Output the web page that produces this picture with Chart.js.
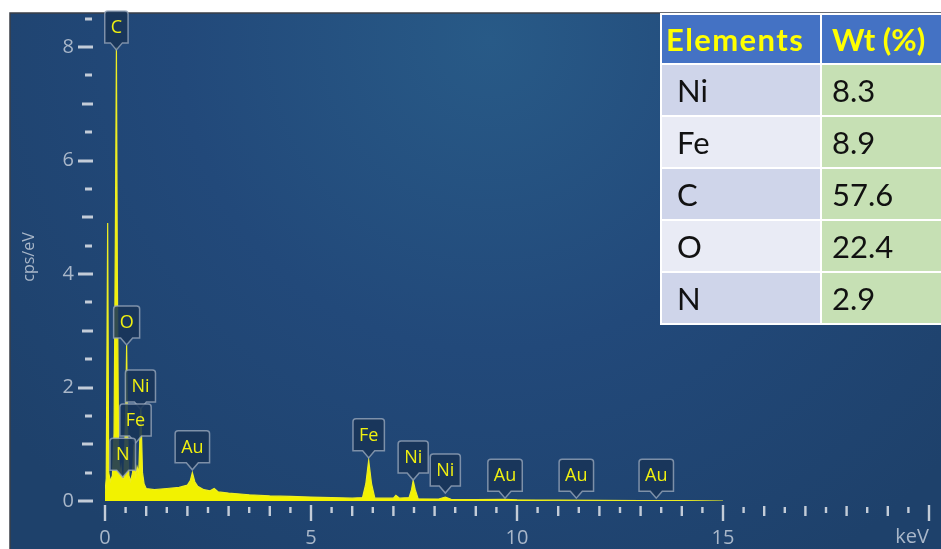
<!DOCTYPE html>
<html>
<head>
<meta charset="utf-8">
<script src="https://cdn.jsdelivr.net/npm/chart.js@4.4.1/dist/chart.umd.min.js"></script>
<style>
  html, body { margin: 0; padding: 0; background: #fff; }
  #wrap { position: relative; width: 941px; height: 549px; }
  #spec { position: absolute; left: 0; top: 0; }
  #wt {
    position: absolute; left: 660px; top: 13px; width: 281px;
    border-collapse: collapse; table-layout: fixed;
    font-family: Lato, "Open Sans", sans-serif;
  }
  #wt th, #wt td { border: 2px solid #fff; padding: 0 0 0 10px; text-align: left; white-space: nowrap; overflow: hidden; }
  #wt th { background: #4472c4; color: #ffff00; font-size: 31px; font-weight: bold; height: 48px; }
  #wt th.first { letter-spacing: 1.4px; padding-left: 4px; }
  #wt td { color: #111; font-size: 31px; height: 50px; }
  #wt td.el { padding-left: 15px; }
  #wt tr.odd td.el { background: #cfd5ea; }
  #wt tr.even td.el { background: #e9ebf5; }
  #wt td.val { background: #c6e0b4; }
</style>
</head>
<body>
<div id="wrap">
  <canvas id="spec" width="941" height="549"></canvas>
  <table id="wt"><colgroup><col style="width:160px"><col style="width:121px"></colgroup><tbody></tbody></table>
</div>
<script>
// EDS spectrum (keV, cps/eV)
const energies = [0.00, 0.03, 0.065, 0.09, 0.13, 0.18, 0.22, 0.25, 0.277, 0.30, 0.33, 0.36, 0.39, 0.42, 0.46, 0.50, 0.525, 0.55, 0.58, 0.62, 0.67, 0.705, 0.74, 0.78, 0.82, 0.87, 0.91, 0.95,
  1.0, 1.2, 1.5, 1.8, 2.0, 2.07, 2.12, 2.18, 2.25, 2.4, 2.55, 2.65, 2.75, 3.0, 3.5, 4.0, 4.5, 5.0, 5.5, 6.0, 6.25, 6.33, 6.40, 6.47, 6.55,
  7.0, 7.06, 7.15, 7.38, 7.44, 7.48, 7.53, 7.6, 8.1, 8.26, 8.4, 9.0, 9.71, 10.0, 11.0, 12.0, 13.0, 14.0, 15.0];
const counts = [0.15, 0.4, 4.9, 0.5, 0.35, 0.45, 1.2, 4.5, 8.0, 4.0, 0.9, 0.45, 0.6, 0.4, 0.4, 1.5, 2.75, 1.2, 0.45, 0.35, 0.5, 1.0, 0.4, 0.6, 0.5, 1.65, 0.5, 0.3,
  0.22, 0.2, 0.22, 0.24, 0.28, 0.36, 0.5, 0.34, 0.26, 0.2, 0.18, 0.22, 0.16, 0.14, 0.11, 0.09, 0.08, 0.07, 0.06, 0.05, 0.06, 0.3, 0.72, 0.3, 0.05,
  0.05, 0.1, 0.05, 0.06, 0.2, 0.36, 0.2, 0.04, 0.035, 0.07, 0.03, 0.025, 0.03, 0.02, 0.015, 0.01, 0.008, 0.005, 0.0];

// peak markers: element, energy (keV), marker tip height (cps/eV)
const peakNames = ['C', 'O', 'Ni', 'Fe', 'N', 'Au', 'Fe', 'Ni', 'Ni', 'Au', 'Au', 'Au'];
const peakEnergies = [0.277, 0.525, 0.86, 0.74, 0.43, 2.12, 6.40, 7.48, 8.26, 9.71, 11.44, 13.38];
const peakTips = [7.95, 2.75, 1.62, 1.02, 0.42, 0.55, 0.76, 0.37, 0.14, 0.05, 0.05, 0.05];

// table
const tableElements = ['Ni', 'Fe', 'C', 'O', 'N'];
const tableWt = ['8.3', '8.9', '57.6', '22.4', '2.9'];

const tbody = document.querySelector('#wt tbody');
let html = '<tr><th class="first">Elements</th><th>Wt (%)</th></tr>';
tableElements.forEach((el, i) => {
  html += '<tr class="' + (i % 2 === 0 ? 'odd' : 'even') + '"><td class="el">' + el + '</td><td class="val">' + tableWt[i] + '</td></tr>';
});
tbody.innerHTML = html;

const axisCol = '#a9b7c9';
const tickCol = '#c3ccd8';

const backdrop = {
  id: 'backdrop',
  beforeDraw(chart) {
    const c = chart.ctx;
    c.save();
    c.fillStyle = '#fff';
    c.fillRect(0, 0, chart.width, chart.height);
    const g = c.createRadialGradient(490, 40, 0, 490, 40, 620);
    g.addColorStop(0, '#285a87');
    g.addColorStop(0.5, '#22497a');
    g.addColorStop(1, '#1e416b');
    c.fillStyle = g;
    c.fillRect(10, 13, chart.width - 10, chart.height - 13);
    c.strokeStyle = '#3a3f48';
    c.lineWidth = 1.5;
    c.beginPath();
    c.moveTo(10, chart.height);
    c.lineTo(10, 13);
    c.lineTo(chart.width, 13);
    c.stroke();
    c.restore();
  }
};

// tick marks, drawn off the chart area like the instrument software does
const tickMarks = {
  id: 'tickMarks',
  afterDraw(chart) {
    const c = chart.ctx, xs = chart.scales.x, ys = chart.scales.y;
    c.save();
    c.fillStyle = tickCol;
    for (let v = 0; v <= 8.5; v += 0.5) {
      const y = Math.round(ys.getPixelForValue(v));
      let x0 = 85, x1 = 92;
      if (v % 2 === 0) { x0 = 78; x1 = 93; }
      else if (v % 1 === 0) { x0 = 82; x1 = 93; }
      c.fillRect(x0, y - 1.5, x1 - x0, 3);
    }
    for (let v = 0; v <= 20; v += 0.5) {
      const x = xs.getPixelForValue(v);
      let y0 = 507, y1 = 513;
      if (v % 5 === 0) { y0 = 505; y1 = 521; }
      else if (v % 1 === 0) { y0 = 506; y1 = 516; }
      c.fillRect(x - 1.2, y0, 2.4, y1 - y0);
    }
    c.restore();
  }
};

const peakTags = {
  id: 'peakTags',
  afterDatasetsDraw(chart) {
    const c = chart.ctx, xs = chart.scales.x, ys = chart.scales.y;
    c.save();
    c.font = '18px "Open Sans", sans-serif';
    c.textAlign = 'center';
    c.textBaseline = 'middle';
    peakNames.forEach((name, i) => {
      const px = xs.getPixelForValue(peakEnergies[i]);
      const py = ys.getPixelForValue(peakTips[i]);
      const w = c.measureText(name).width + 12;
      const h = 32;
      const bottom = py - 7;
      const left = px - w / 2, top = bottom - h;
      c.beginPath();
      c.moveTo(left + 3, top);
      c.lineTo(left + w - 3, top);
      c.quadraticCurveTo(left + w, top, left + w, top + 3);
      c.lineTo(left + w, bottom);
      c.lineTo(px + 6, bottom);
      c.lineTo(px, py);
      c.lineTo(px - 6, bottom);
      c.lineTo(left, bottom);
      c.lineTo(left, top + 3);
      c.quadraticCurveTo(left, top, left + 3, top);
      c.closePath();
      c.fillStyle = 'rgba(24, 52, 88, 0.88)';
      c.fill();
      c.strokeStyle = 'rgba(150, 165, 185, 0.8)';
      c.lineWidth = 1.5;
      c.stroke();
      c.fillStyle = '#f0f010';
      c.fillText(name, px, top + h / 2 + 1);
    });
    c.restore();
  }
};

new Chart(document.getElementById('spec').getContext('2d'), {
  type: 'line',
  data: {
    datasets: [{
      data: energies.map((e, i) => ({ x: e, y: counts[i] })),
      borderColor: '#eeee22',
      backgroundColor: '#f2f200',
      borderWidth: 1.2,
      fill: 'origin',
      pointRadius: 0,
      tension: 0
    }]
  },
  options: {
    responsive: false,
    animation: false,
    layout: { padding: { top: 13, left: 0, right: 12, bottom: 0 } },
    plugins: { legend: { display: false }, tooltip: { enabled: false } },
    scales: {
      x: {
        type: 'linear', min: 0, max: 20,
        grid: { display: false }, border: { display: false },
        ticks: {
          stepSize: 5, color: axisCol, padding: 17, maxRotation: 0,
          font: { size: 20, family: '"Open Sans", sans-serif' },
          callback: v => (v === 20 ? '' : v)
        },
        title: {
          display: true, text: 'keV', align: 'end', color: axisCol,
          font: { size: 20, family: '"Open Sans", sans-serif' },
          padding: { top: 0, bottom: 0 }
        },
        afterFit: s => { s.height = 48; s.paddingLeft = 0; s.paddingRight = 0; }
      },
      y: {
        min: 0, max: 8.6,
        grid: { display: false }, border: { display: false },
        ticks: {
          stepSize: 2, includeBounds: false, color: axisCol, padding: 23,
          font: { size: 20, family: '"Open Sans", sans-serif' }
        },
        title: {
          display: true, text: 'cps/eV', color: axisCol,
          font: { size: 16, family: '"Open Sans", sans-serif' },
          padding: { top: 20, bottom: 0 }
        },
        afterFit: s => { s.width = 105; s.paddingTop = 0; s.paddingBottom = 0; }
      }
    }
  },
  plugins: [backdrop, tickMarks, peakTags]
});
</script>
</body>
</html>
